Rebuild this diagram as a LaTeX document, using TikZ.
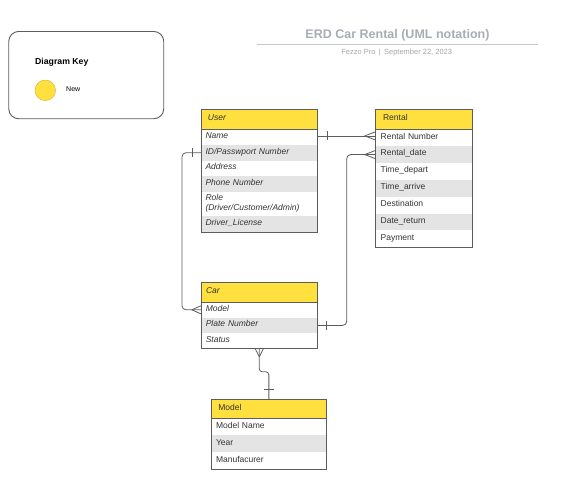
\documentclass[tikz,border=0pt]{standalone}
\usepackage{fontspec}
\setmainfont{Liberation Sans}
\usetikzlibrary{positioning}
\definecolor{lucidyellow}{HTML}{FFE03F}
\definecolor{rowgray}{HTML}{E4E4E4}
\definecolor{edgegray}{HTML}{5C5C5C}
\definecolor{titlegray}{HTML}{A8ACB6}
\definecolor{txt}{HTML}{333333}

\begin{document}
\begin{tikzpicture}[x=1pt, y=-1pt,
  field/.style={rectangle, anchor=north west, inner xsep=4.5pt, inner ysep=0pt, outer sep=0pt, align=left, text height=6.2pt, text depth=3.6pt},
  head/.style={fill=lucidyellow, draw=edgegray, line width=0.9pt, outer sep=0pt, execute at begin node={\hspace*{#1}}},
  head/.default=2.4pt,
  shade/.style={fill=rowgray},
  ufield/.style={field, text width=107.3pt, minimum height=15.6pt, font=\itshape},
  rfield/.style={field, inner xsep=5pt, text width=86.6pt, minimum height=16.85pt},
  cfield/.style={field, text width=107pt, minimum height=15.6pt, font=\itshape},
  mfield/.style={field, inner xsep=5pt, text width=105.7pt, minimum height=17pt},
  frame/.style={draw=edgegray, line width=0.9pt},
  link/.style={draw=edgegray, line width=0.8pt},
  node distance=0pt, text=txt]
  \fontsize{8.5}{10}\selectfont
  \useasboundingbox (0,0) rectangle (586,498);

  % title
  \node[font=\bfseries\fontsize{12.5}{15}\selectfont, text=titlegray] (title) at (397.5,35) {ERD Car Rental (UML notation)};
  \draw[draw=black!22, line width=0.8pt] (256.7,44) -- (538.3,44);
  \node[font=\fontsize{7.5}{9}\selectfont, text=black!35] (sub) at (396.7,52.3) {Fezzo Pro \,|\, September 22, 2023};

  % key
  \node[frame, rounded corners=10pt, minimum width=155pt, minimum height=87.3pt, anchor=north west] (key) at (8.3,31) {};
  \node[font=\bfseries\fontsize{8.7}{10}\selectfont, text=black, anchor=west, inner sep=0pt] (keyTitle) at (35,62.3) {Diagram Key};
  \node[circle, fill=lucidyellow, draw=lucidyellow!80!black, line width=0.4pt, minimum size=20.6pt, inner sep=0pt] (newDot) at (45.3,90.3) {};
  \node[font=\fontsize{7}{8}\selectfont, text=black, anchor=west, inner sep=0pt] (newLbl) at (66,89) {New};

  % User
  \node[ufield, head, minimum height=20pt] (user) at (201,109.3) {User};
  \node[ufield, below=of user] (uName) {Name};
  \node[ufield, shade, below=of uName] (uId) {ID/Passwport Number};
  \node[ufield, below=of uId] (uAddr) {Address};
  \node[ufield, shade, below=of uAddr] (uPhone) {Phone Number};
  \node[ufield, minimum height=24.7pt, text depth=13.6pt, below=of uPhone] (uRole) {Role\\(Driver/Customer/Admin)};
  \node[ufield, shade, below=of uRole] (uLic) {Driver\_License};
  \draw[frame] (user.north west) rectangle (uLic.south east);

  % Rental
  \node[rfield, head, minimum height=20pt] (rental) at (375.7,109.3) {Rental};
  \node[rfield, below=of rental] (rNum) {Rental Number};
  \node[rfield, shade, below=of rNum] (rDate) {Rental\_date};
  \node[rfield, below=of rDate] (rDep) {Time\_depart};
  \node[rfield, shade, below=of rDep] (rArr) {Time\_arrive};
  \node[rfield, below=of rArr] (rDest) {Destination};
  \node[rfield, shade, below=of rDest] (rRet) {Date\_return};
  \node[rfield, below=of rRet] (rPay) {Payment};
  \draw[frame] (rental.north west) rectangle (rPay.south east);

  % Car
  \node[cfield, head=0.2pt, minimum height=19.3pt] (car) at (201.3,282.7) {Car};
  \node[cfield, below=of car] (cModel) {Model};
  \node[cfield, shade, below=of cModel] (cPlate) {Plate Number};
  \node[cfield, below=of cPlate] (cStatus) {Status};
  \draw[frame] (car.north west) rectangle (cStatus.south east);

  % Model
  \node[mfield, head, minimum height=19pt] (model) at (211,399.3) {Model};
  \node[mfield, below=of model] (mName) {Model Name};
  \node[mfield, shade, below=of mName] (mYear) {Year};
  \node[mfield, below=of mYear] (mMaker) {Manufacurer};
  \draw[frame] (model.north west) rectangle (mMaker.south east);

  % User -- Rental
  \coordinate (rn) at ([yshift=1.2pt]uName.east -| rNum.west);
  \draw[link] ([yshift=1.2pt]uName.east) -- (rn);
  \draw[link] ([xshift=10pt,yshift=5.7pt]uName.east) -- ([xshift=10pt,yshift=-3.3pt]uName.east);
  \foreach \s in {4.2,-4.2} \draw[link] ([xshift=-11pt]rn) -- ([yshift=\s pt]rn);

  % User -- Car
  \draw[link, rounded corners=4pt] (uId.west) -- ++(-19,0) |- (cModel.west);
  \draw[link] ([xshift=-9pt,yshift=4.5pt]uId.west) -- ([xshift=-9pt,yshift=-4.5pt]uId.west);
  \foreach \s in {4.2,-4.2} \draw[link] ([xshift=-9.5pt]cModel.west) -- ([yshift=\s pt]cModel.west);

  % Car -- Rental
  \draw[link, rounded corners=4pt] (cPlate.east) -- ++(29.4,0) |- (rDate.west);
  \draw[link] ([xshift=9.5pt,yshift=4.5pt]cPlate.east) -- ([xshift=9.5pt,yshift=-4.5pt]cPlate.east);
  \foreach \s in {4.2,-4.2} \draw[link] ([xshift=-11pt]rDate.west) -- ([yshift=\s pt]rDate.west);

  % Car -- Model
  \draw[link, rounded corners=3pt] (cStatus.south) -- ++(0,23) -| (model.north);
  \foreach \s in {4,-4} \draw[link] ([yshift=-8pt]cStatus.south) -- ([xshift=\s pt]cStatus.south);
  \draw[link] ([xshift=-5pt,yshift=10pt]model.north) -- ([xshift=5pt,yshift=10pt]model.north);

\end{tikzpicture}
\end{document}
